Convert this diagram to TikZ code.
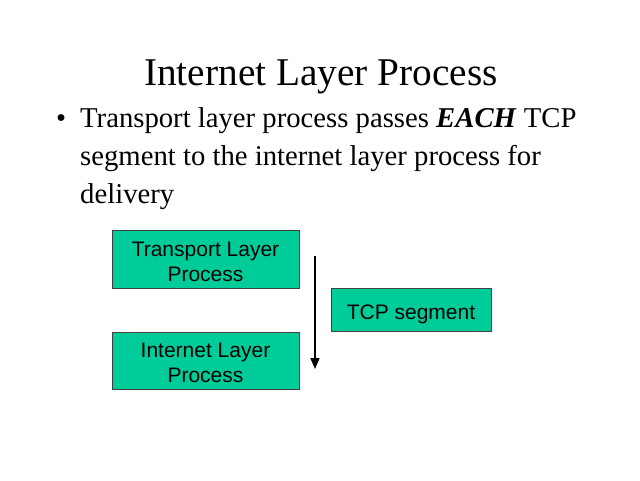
\documentclass[tikz,border=0pt]{standalone}
\usepackage{fontspec}
\setmainfont{Liberation Serif}
\newfontfamily\boxfont{Liberation Sans}
\usetikzlibrary{arrows.meta}
\definecolor{boxgreen}{HTML}{00CC99}
\definecolor{boxline}{HTML}{404040}
\newcommand\shiftdown[1]{\raisebox{-4.5pt}[\height][\depth]{\begin{tabular}{@{}c@{}}#1\end{tabular}}}
\tikzset{
  layerbox/.style={draw=boxline, line width=1pt, fill=boxgreen, inner sep=0pt,
    font=\boxfont\fontsize{21}{25}\selectfont, align=center},
  flowarrow/.style={line width=1.6pt, -{Triangle[width=9pt,length=11pt]}}
}
\begin{document}
\begin{tikzpicture}[x=1pt,y=-1pt]
\useasboundingbox (0,0) rectangle (640,480);
\fill[white] (0,0) rectangle (640,480);
\node[anchor=base, font=\fontsize{39.3}{45}\selectfont] (title) at (321,85) {Internet Layer Process};
\node[anchor=base west, inner sep=0pt, font=\fontsize{28.7}{38}\selectfont] (bullet) at (56,127) {\textbullet};
\node[anchor=base west, inner sep=0pt, font=\fontsize{28.7}{38}\selectfont, align=left] (body) at (80,203)
  {Transport layer process passes \textbf{\textit{EACH}} TCP\\segment to the internet layer process for\\delivery};
\node[layerbox, minimum width=187pt, minimum height=58pt] (transport) at (205.5,259) {\shiftdown{Transport Layer\\Process}};
\node[layerbox, minimum width=187pt, minimum height=57pt] (internet) at (205.5,360.5) {\shiftdown{Internet Layer\\Process}};
\node[layerbox, minimum width=160pt, minimum height=43pt] (tcp) at (411,309.5) {\shiftdown{TCP segment}};
\coordinate (astart) at (315,256);
\coordinate (aend) at (315,369);
\draw[flowarrow] (astart) -- (aend);
\end{tikzpicture}
\end{document}
